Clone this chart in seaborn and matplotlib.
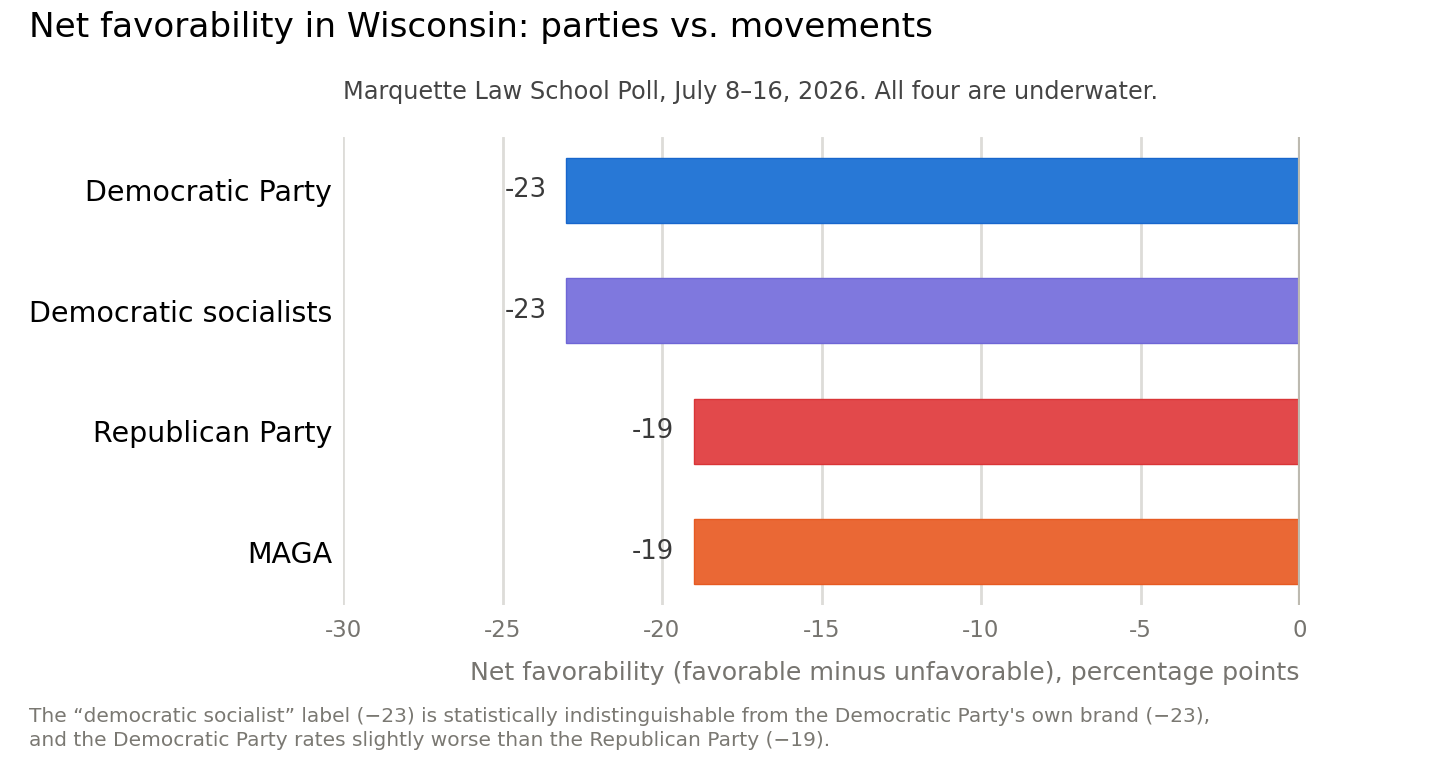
import matplotlib
matplotlib.use("Agg")
import matplotlib.pyplot as plt
import seaborn as sns
import pandas as pd

# Datos
categories = ["Democratic Party", "Democratic socialists", "Republican Party", "MAGA"]
net_fav = [-23, -23, -19, -19]
bar_colors = ["#2878D6", "#7F78DE", "#E2494B", "#EA6835"]
edge_colors = ["#1766CC", "#6E66D6", "#D93537", "#E65A22"]
x_ticks = [-30, -25, -20, -15, -10, -5, 0]

TITLE = "Net favorability in Wisconsin: parties vs. movements"
SUBTITLE = "Marquette Law School Poll, July 8\u201316, 2026. All four are underwater."
XLABEL = "Net favorability (favorable minus unfavorable), percentage points"
FOOTNOTE = ("The \u201cdemocratic socialist\u201d label (\u221223) is statistically indistinguishable "
            "from the Democratic Party's own brand (\u221223),\n"
            "and the Democratic Party rates slightly worse than the Republican Party (\u221219).")

df = pd.DataFrame({"group": categories, "net": net_fav})

sns.set_theme(style="white")
plt.rcParams["font.family"] = ["DejaVu Sans"]

W, H = 1456, 760
fig = plt.figure(figsize=(W / 100, H / 100), dpi=100)
ax = fig.add_axes([343 / W, 1 - 605 / H, 957 / W, 468 / H])

# Rejilla
for t in x_ticks[:-1]:
    ax.axvline(t, color="#DDDCD8", lw=2, zorder=0)

sns.barplot(data=df, x="net", y="group", hue="group", palette=bar_colors,
            order=categories, hue_order=categories, orient="h", saturation=1,
            width=0.54, legend=False, ax=ax, zorder=2)

for patch, ec in zip(ax.patches, edge_colors):
    patch.set_edgecolor(ec)
    patch.set_linewidth(1.0)

ax.axvline(0, color="#BDBAB0", lw=3, zorder=3)

# Etiquetas de valor
for i, v in enumerate(net_fav):
    ax.text(v - 0.62, i, f"{v}", ha="right", va="center", fontsize=18.5, color="#3A3A3A")

ax.set_xlim(-30, 0)
ax.set_ylim(3.44, -0.44)
ax.set_xticks(x_ticks)
ax.set_xticklabels([str(t) for t in x_ticks])
ax.tick_params(axis="x", length=0, pad=10, labelsize=16.5, labelcolor="#76746F")
ax.tick_params(axis="y", length=0, pad=8, labelsize=20.5, labelcolor="#000000")
ax.set_xlabel("")
ax.set_ylabel("")
for s in ax.spines.values():
    s.set_visible(False)

fig.text(29 / W, 1 - 27 / H, TITLE, ha="left", va="center", fontsize=24.7, color="#000000")
fig.text(751 / W, 1 - 92 / H, SUBTITLE, ha="center", va="center", fontsize=17.3, color="#444444")
fig.text(1299 / W, 1 - 673 / H, XLABEL, ha="right", va="center", fontsize=18.2, color="#76746F")
fig.text(29 / W, 1 - 707 / H, FOOTNOTE, ha="left", va="top", fontsize=14.5,
         color="#7A7872", linespacing=1.3)

fig.savefig("out.png", dpi=100)
